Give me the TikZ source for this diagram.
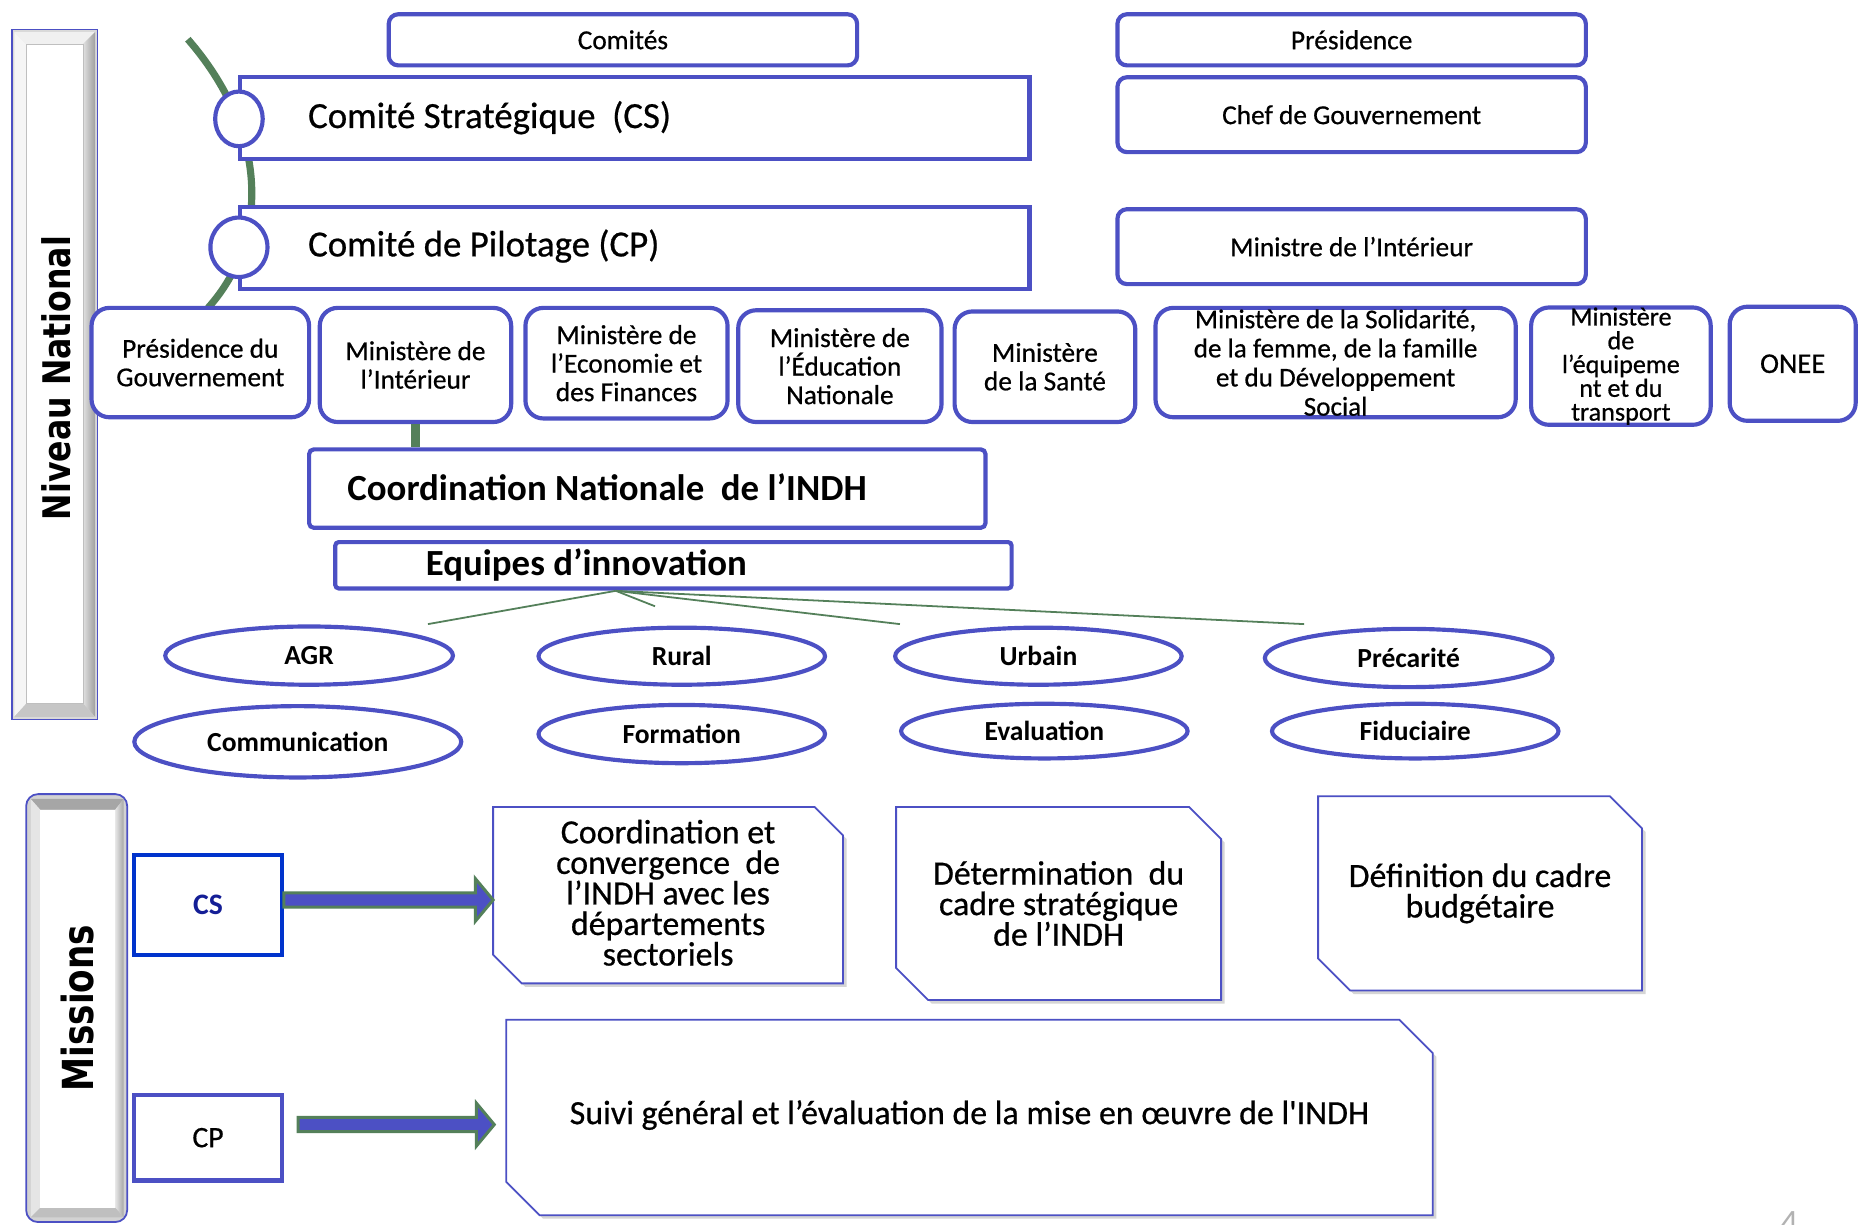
\documentclass[tikz,border=0pt]{standalone}
\usepackage{fontspec}
\setmainfont{Carlito}[FakeBold=0.6]
\newfontfamily\vfont{DejaVu Sans}
\newfontfamily\plainfont{Carlito}
\usetikzlibrary{shapes.geometric,calc}
\definecolor{bblue}{RGB}{76,80,196}
\definecolor{pblue}{RGB}{0,51,204}
\definecolor{navy}{RGB}{20,30,150}
\definecolor{ggreen}{RGB}{84,128,90}
\newcommand{\fsz}[2]{\fontsize{#1}{#2}\selectfont}
\newcommand{\snip}[4]{([xshift=#3,yshift=#4]#1.north west) -- ([xshift=#3-#2,yshift=#4]#1.north east) -- ([xshift=#3,yshift=#4-#2]#1.north east) -- ([xshift=#3,yshift=#4]#1.south east) -- ([xshift=#3+#2,yshift=#4]#1.south west) -- ([xshift=#3,yshift=#4+#2]#1.south west) -- cycle}
\newcommand{\blkarrow}[2]{\path[draw=ggreen, fill=bblue, line width=2.5pt, line join=miter] let \p1=(#1), \p2=(#2) in (\x1,\y1+6pt) -- (\x2-15pt,\y1+6pt) -- (\x2-15pt,\y1+18pt) -- (\x2,\y1) -- (\x2-15pt,\y1-18pt) -- (\x2-15pt,\y1-6pt) -- (\x1,\y1-6pt) -- cycle;}
\begin{document}
\begin{tikzpicture}[x=1pt,y=-1pt,
  rbox/.style={draw=bblue, line width=3.5pt, fill=white, rounded corners=8pt, inner sep=0pt, align=center, font=\fsz{23}{24}},
  minbox/.style={draw=bblue, line width=3.5pt, fill=white, rounded corners=15pt, inner sep=0pt, align=center, font=\fsz{23}{24}},
  sbox/.style={draw=bblue, line width=3.5pt, fill=white, inner sep=0pt},
  ell/.style={ellipse, draw=bblue, line width=3.5pt, fill=white, inner sep=0pt, font=\plainfont\bfseries\fsz{23.2}{24}},
  circ/.style={ellipse, draw=bblue, line width=3.5pt, fill=white, inner sep=0pt},
  msn/.style={draw=bblue, line width=1.5pt, fill=white, line join=miter},
  msnshadow/.style={fill=gray!55, opacity=0.6},
  mtext/.style={align=center, inner sep=0pt, font=\fsz{28.5}{25.7}},
  arcline/.style={draw=ggreen, line width=6pt},
  thinline/.style={draw=ggreen, line width=1.5pt},
  ttl/.style={font=\vfont\bfseries, inner sep=0pt}
]
\fill[white] (0,0) rectangle (1568,1030);
\useasboundingbox (0,0) rectangle (1568,1030);

% ---------- Niveau National bar ----------
\node[draw=bblue, line width=1.2pt, fill=gray!30, minimum width=72, minimum height=580, inner sep=0pt] (nnbar) at (46,315) {};
\fill[gray!12] (12,27) -- (80,27) -- (70,37) -- (22,37) -- cycle;
\fill[gray!8] (12,27) -- (22,37) -- (22,592) -- (12,603) -- cycle;
\shade[left color=gray!25, right color=gray!75] (70,37) -- (80,27) -- (80,603) -- (70,592) -- cycle;
\fill[gray!45] (12,603) -- (80,603) -- (70,592) -- (22,592) -- cycle;
\node[fill=white, draw=gray!50, line width=0.6pt, minimum width=48, minimum height=555, inner sep=0pt] (nninner) at (46,314.5) {};
\node[ttl, rotate=90] (nntext) at (47,318) {\fsz{32}{32}\scalebox{0.83}[1]{Niveau National}};

% ---------- Missions bar ----------
\node[draw=bblue, line width=1.5pt, rounded corners=10pt, fill=gray!35, minimum width=85, minimum height=360, inner sep=0pt] (msbar) at (64.5,848) {};
\fill[gray!20] (26,672) -- (26,1024) -- (34,1016) -- (34,681) -- cycle;
\fill[gray!70] (26,672) -- (104,672) -- (97,681) -- (34,681) -- cycle;
\shade[left color=gray!20, right color=gray!70] (97,681) -- (104,672) -- (104,1024) -- (97,1016) -- cycle;
\fill[gray!50] (26,1024) -- (104,1024) -- (97,1016) -- (34,1016) -- cycle;
\node[fill=white, minimum width=63, minimum height=335, inner sep=0pt] (msinner) at (65.5,848.5) {};
\node[ttl, rotate=90] (mstext) at (65,848) {\fsz{36}{36}\scalebox{0.8}[1]{Missions}};

% ---------- green arc ----------
\coordinate (arcA) at (158,33);
\coordinate (arcB) at (175,259);
\draw[arcline] (arcA) .. controls (225,110) and (228,200) .. (arcB);

% ---------- top boxes ----------
\node[rbox, minimum width=394, minimum height=43] (comites) at (524,33.5) {Comités};
\node[rbox, minimum width=394, minimum height=43] (pres) at (1137,33.5) {Présidence};
\node[rbox, minimum width=394, minimum height=63] (chef) at (1137,96.5) {Chef de Gouvernement};
\node[rbox, minimum width=394, minimum height=63] (minist) at (1137,207.5) {Ministre de l’Intérieur};

\node[sbox, minimum width=664, minimum height=69] (cs) at (534,99.5) {};
\node[anchor=west, inner sep=0pt, font=\fsz{31}{31}] (cstext) at (259,99) {Comité Stratégique\ \ (CS)};
\node[sbox, minimum width=664, minimum height=69] (cp) at (534,208.5) {};
\node[anchor=west, inner sep=0pt, font=\fsz{31}{31}] (cptext) at (259,207) {Comité de Pilotage (CP)};
\node[circ, minimum width=40, minimum height=46] (c1) at (201,100) {};
\node[circ, minimum width=48, minimum height=50] (c2) at (201,208) {};

% ---------- ministries ----------
\node[minbox, minimum width=183, minimum height=92] (presgov) at (168.5,305) {Présidence du\\Gouvernement};
\node[minbox, minimum width=161, minimum height=96] (minint) at (349.5,307) {Ministère de\\l’Intérieur};
\node[minbox, minimum width=170, minimum height=93] (mineco) at (527,305.5) {Ministère de\\l’Economie et\\des Finances};
\node[minbox, minimum width=171, minimum height=94] (minedu) at (706.5,308) {Ministère de\\l’Éducation\\Nationale};
\node[minbox, minimum width=152, minimum height=93] (minsante) at (879,308.5) {Ministère\\de la Santé};
\node[minbox, minimum width=303, minimum height=92, font=\fsz{22.8}{24.5}] (minsol) at (1123.5,305) {Ministère de la Solidarité,\\de la femme, de la famille\\et du Développement\\Social};
\node[minbox, minimum width=151, minimum height=96, font=\fsz{22}{20}] (mineq) at (1363.5,308) {Ministère\\de\\l’équipeme\\nt et du\\transport};
\node[minbox, minimum width=106, minimum height=96, font=\fsz{24}{24}] (onee) at (1508,306) {ONEE};

% ---------- coordination ----------
\node[sbox, rounded corners=4pt, minimum width=569, minimum height=66] (coord) at (544.5,411) {};
\draw[draw=ggreen, line width=7pt] (minint.south) -- (minint.south |- coord.north);
\node[anchor=west, inner sep=0pt, font=\plainfont\bfseries\fsz{31}{31}] (coordtext) at (292,410) {Coordination Nationale\ \ de l’INDH};
\node[sbox, rounded corners=3pt, minimum width=569, minimum height=39] (equipes) at (566.5,475.5) {};
\node[anchor=west, inner sep=0pt, font=\plainfont\bfseries\fsz{31}{31}] (eqtext) at (358,475) {Equipes d’innovation};

\coordinate (hub) at (518,497);
\coordinate (l1) at (360,525);
\coordinate (l2) at (551,510);
\coordinate (l3) at (757,525);
\coordinate (l4) at (1097,525);
\draw[thinline] (hub) -- (l1);
\draw[thinline] (hub) -- (l2);
\draw[thinline] (hub) -- (l3);
\draw[thinline] (hub) -- (l4);

% ---------- ellipses ----------
\node[ell, minimum width=242, minimum height=49] (agr) at (260,551.5) {AGR};
\node[ell, minimum width=241, minimum height=48] (rural) at (573.5,552) {Rural};
\node[ell, minimum width=241, minimum height=48] (urbain) at (873.5,552) {Urbain};
\node[ell, minimum width=242, minimum height=49] (prec) at (1185,553.5) {Précarité};
\node[ell, minimum width=275, minimum height=60] (comm) at (250.5,624) {Communication};
\node[ell, minimum width=241, minimum height=49] (form) at (573.5,617.5) {Formation};
\node[ell, minimum width=241, minimum height=46] (eval) at (878.5,615) {Evaluation};
\node[ell, minimum width=241, minimum height=46] (fid) at (1190.5,615) {Fiduciaire};

% ---------- missions ----------
\node[draw=pblue, line width=3.5pt, fill=white, minimum width=124, minimum height=84, inner sep=0pt, text=navy, font=\plainfont\bfseries\fsz{25}{25}] (csm) at (175,761) {CS};
\node[draw=bblue, line width=3.5pt, fill=white, minimum width=124, minimum height=72, inner sep=0pt, font=\fsz{25}{25}] (cpm) at (175,957) {CP};

\path (562,753) node[minimum width=294, minimum height=148, inner sep=0pt] (m1box) {};
\path (890.5,760) node[minimum width=273, minimum height=162, inner sep=0pt] (m2box) {};
\path (1245,751.5) node[minimum width=272, minimum height=163, inner sep=0pt] (m3box) {};
\path (815.5,940) node[minimum width=779, minimum height=164, inner sep=0pt] (m4box) {};

\fill[msnshadow] \snip{m1box}{24pt}{3pt}{-3pt};
\draw[msn] \snip{m1box}{24pt}{0pt}{0pt};
\fill[msnshadow] \snip{m2box}{27pt}{3pt}{-3pt};
\draw[msn] \snip{m2box}{27pt}{0pt}{0pt};
\fill[msnshadow] \snip{m3box}{27pt}{3pt}{-3pt};
\draw[msn] \snip{m3box}{27pt}{0pt}{0pt};
\fill[msnshadow] \snip{m4box}{28pt}{3pt}{-3pt};
\draw[msn] \snip{m4box}{28pt}{0pt}{0pt};

\node[mtext] (m1) at ([yshift=2pt]m1box.center) {Coordination et\\convergence\ \ de\\l’INDH avec les\\départements\\sectoriels};
\node[mtext] (m2) at (m2box) {Détermination\ \ du\\cadre stratégique\\de l’INDH};
\node[mtext] (m3) at (m3box) {Définition du cadre\\budgétaire};
\node[mtext] (m4) at ([yshift=2pt]m4box.center) {Suivi général et l’évaluation de la mise en œuvre de l\textquotesingle INDH};

\coordinate (csA) at ([yshift=4pt]csm.east);
\coordinate (csB) at (csA -| m1box.west);
\coordinate (cpA) at ([xshift=12pt,yshift=11pt]cpm.east);
\coordinate (cpB) at ($(cpA -| m4box.west)+(-10,0)$);
\blkarrow{csA}{csB}
\blkarrow{cpA}{cpB}

\node[anchor=north, inner sep=0pt, text=gray!60, font=\plainfont\fsz{30}{30}] (pgnum) at (1505,1019) {4};
\end{tikzpicture}
\end{document}
